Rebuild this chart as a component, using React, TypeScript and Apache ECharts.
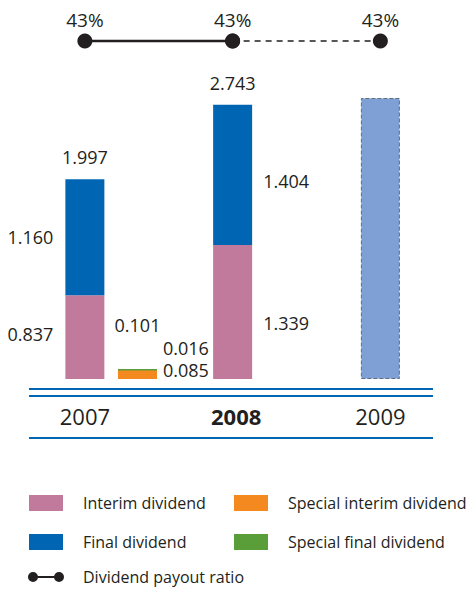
import React, { useEffect, useRef } from 'react';
import * as echarts from 'echarts';

// ---- data ----
const years = ['2007', '2008', '2009'];
const interimDividend: (number | null)[] = [0.837, 1.339, null];
const finalDividend: (number | null)[] = [1.16, 1.404, null];
const forecastDividend: (number | null)[] = [null, null, 2.81];
const specialInterimDividend = [0.085];
const specialFinalDividend = [0.016];
const payoutRatio = [43, 43, 43];
const FORECAST_FROM = 2; // index of first forecast year
const BOLD_YEAR = '2008';

// ---- styles / layout ----
const TEXT = '#231f20';
const PINK = '#c17a9c';
const BLUE = '#0066b3';
const ORANGE = '#f4891f';
const GREEN = '#5a9e3a';
const LIGHT = '#7fa0d4';
const NUM_FONT = "'Liberation Sans Narrow', 'Arial Narrow', 'Open Sans', sans-serif";
const FONT = "'Open Sans', 'Noto Sans', sans-serif";
const BAR_W = 39;
const SPECIAL_X = 0.356; // horizontal placement of the special-dividend bar
const GRID_LEFT = 11;
const GRID_RIGHT = 14.75;

const interimLabelPlace = [
  { position: 'left', distance: 12, offset: [0, -3] },
  { position: 'right', distance: 11, offset: [0, 11] },
];
const finalLabelPlace = [
  { position: 'left', distance: 12, offset: [0, 0] },
  { position: 'right', distance: 11, offset: [0, 6] },
];

const fmt = (v: number) => v.toFixed(3);
const numLabel = { fontFamily: NUM_FONT, fontSize: 18, color: TEXT };

const PAYOUT_ICON =
  'path://M5,0A5,5,0,1,1,5,10A5,5,0,1,1,5,0Z M31,0A5,5,0,1,1,31,10A5,5,0,1,1,31,0Z M5,4H31V6H5Z';

export default function App() {
  const ref = useRef<HTMLDivElement>(null);

  useEffect(() => {
    if (!ref.current) return;
    const chart = echarts.init(ref.current, undefined, { renderer: 'svg' });

    const totals = interimDividend.map((v, i) =>
      v == null || finalDividend[i] == null ? null : v + (finalDividend[i] as number)
    );
    const specialTotal = specialInterimDividend[0] + specialFinalDividend[0];

    const legendBase: any = {
      padding: 0,
      itemWidth: 34,
      itemHeight: 16,
      icon: 'rect',
      selectedMode: false,
      textStyle: { fontFamily: FONT, fontSize: 16, color: TEXT, padding: [0, 0, 0, 15] },
    };

    const option: any = {
      animation: false,
      grid: [
        { left: GRID_LEFT, right: GRID_RIGHT, top: 29, bottom: 210 },
        { left: GRID_LEFT, right: GRID_RIGHT, top: 21, height: 40 },
      ],
      xAxis: [
        {
          type: 'category',
          gridIndex: 0,
          data: years,
          axisLine: { show: false },
          axisTick: { show: false },
          axisLabel: {
            margin: 26,
            formatter: (v: string) => (v === BOLD_YEAR ? `{b|${v}}` : `{n|${v}}`),
            rich: {
              n: { fontFamily: FONT, fontSize: 22, color: TEXT },
              b: { fontFamily: FONT, fontSize: 22, color: TEXT, fontWeight: 'bold', padding: [0, 0, 0, 7] },
            },
          },
        },
        { type: 'value', gridIndex: 0, min: -0.5, max: 2.5, show: false },
        { type: 'category', gridIndex: 1, data: years, show: false },
      ],
      yAxis: [
        { type: 'value', gridIndex: 0, min: 0, max: 3.5, show: false },
        { type: 'value', gridIndex: 1, min: 0, max: 86, show: false },
      ],
      legend: [
        { ...legendBase, left: 29, top: 495, data: ['Interim dividend'] },
        { ...legendBase, left: 234, top: 495, data: ['Special interim dividend'] },
        { ...legendBase, left: 29, top: 534, data: ['Final dividend'] },
        { ...legendBase, left: 234, top: 534, data: ['Special final dividend'] },
        {
          ...legendBase,
          left: 28,
          top: 569,
          itemWidth: 36,
          itemHeight: 10,
          textStyle: { ...legendBase.textStyle, padding: [0, 0, 0, 14] },
          data: [{ name: 'Dividend payout ratio', icon: PAYOUT_ICON }],
        },
      ],
      graphic: [
        { type: 'line', shape: { x1: 29, y1: 389, x2: 433, y2: 389 }, style: { stroke: BLUE, lineWidth: 2 } },
        { type: 'line', shape: { x1: 29, y1: 396, x2: 433, y2: 396 }, style: { stroke: BLUE, lineWidth: 2 } },
        { type: 'line', shape: { x1: 29, y1: 438, x2: 433, y2: 438 }, style: { stroke: BLUE, lineWidth: 2 } },
      ],
      series: [
        {
          name: 'Interim dividend',
          type: 'bar',
          stack: 'main',
          barWidth: BAR_W,
          itemStyle: { color: PINK },
          label: { ...numLabel },
          data: interimDividend.map((v, i) =>
            v == null
              ? null
              : { value: v, label: { show: true, ...interimLabelPlace[i], formatter: fmt(v) } }
          ),
        },
        {
          name: 'Final dividend',
          type: 'bar',
          stack: 'main',
          barWidth: BAR_W,
          itemStyle: { color: BLUE },
          label: { ...numLabel },
          data: finalDividend.map((v, i) =>
            v == null
              ? null
              : { value: v, label: { show: true, ...finalLabelPlace[i], formatter: fmt(v) } }
          ),
        },
        {
          name: 'Forecast',
          type: 'bar',
          stack: 'main',
          barWidth: BAR_W,
          itemStyle: { color: LIGHT, borderColor: '#5d6c85', borderWidth: 1, borderType: [4, 2] },
          data: forecastDividend,
        },
        {
          name: 'Total',
          type: 'bar',
          stack: 'main',
          barWidth: BAR_W,
          itemStyle: { color: 'transparent' },
          label: { ...numLabel },
          data: totals.map((t) =>
            t == null
              ? null
              : { value: 0, label: { show: true, position: 'top', distance: 13, formatter: fmt(t) } }
          ),
        },
        {
          name: 'Special final dividend',
          type: 'bar',
          xAxisIndex: 1,
          barWidth: BAR_W,
          barGap: '-100%',
          itemStyle: { color: GREEN },
          label: {
            show: true,
            ...numLabel,
            position: 'right',
            distance: 6,
            offset: [0, -26],
            formatter: fmt(specialFinalDividend[0]),
          },
          data: [[SPECIAL_X, specialTotal]],
        },
        {
          name: 'Special interim dividend',
          type: 'bar',
          xAxisIndex: 1,
          barWidth: BAR_W,
          barGap: '-100%',
          itemStyle: { color: ORANGE },
          label: {
            show: true,
            ...numLabel,
            position: 'right',
            distance: 6,
            offset: [0, -5],
            formatter: fmt(specialInterimDividend[0]),
          },
          data: [[SPECIAL_X, specialInterimDividend[0]]],
        },
        {
          name: 'Special total',
          type: 'bar',
          xAxisIndex: 1,
          barWidth: BAR_W,
          barGap: '-100%',
          itemStyle: { color: 'transparent' },
          label: {
            show: true,
            ...numLabel,
            position: 'top',
            distance: 35,
            formatter: fmt(specialTotal),
          },
          data: [[SPECIAL_X, specialTotal]],
        },
        {
          name: 'Dividend payout ratio',
          type: 'line',
          xAxisIndex: 2,
          yAxisIndex: 1,
          symbol: 'circle',
          symbolSize: 15,
          itemStyle: { color: TEXT },
          lineStyle: { color: TEXT, width: 2.5 },
          label: {
            show: true,
            position: 'top',
            distance: 4,
            fontFamily: FONT,
            fontSize: 19,
            color: TEXT,
            formatter: '{c}%',
          },
          data: payoutRatio.map((v, i) => (i < FORECAST_FROM ? v : null)),
        },
        {
          name: 'Payout forecast',
          type: 'line',
          xAxisIndex: 2,
          yAxisIndex: 1,
          symbol: 'circle',
          symbolSize: 15,
          itemStyle: { color: TEXT },
          lineStyle: { color: TEXT, width: 1.5, type: [6, 5] },
          label: {
            position: 'top',
            distance: 4,
            fontFamily: FONT,
            fontSize: 19,
            color: TEXT,
            formatter: '{c}%',
          },
          data: payoutRatio.map((v, i) =>
            i < FORECAST_FROM - 1 ? null : { value: v, label: { show: i >= FORECAST_FROM } }
          ),
        },
      ],
    };

    chart.setOption(option);
    return () => chart.dispose();
  }, []);

  return (
    <div
      ref={ref}
      style={{ position: 'fixed', left: 0, top: 0, width: 469, height: 589, background: '#fff' }}
    />
  );
}
